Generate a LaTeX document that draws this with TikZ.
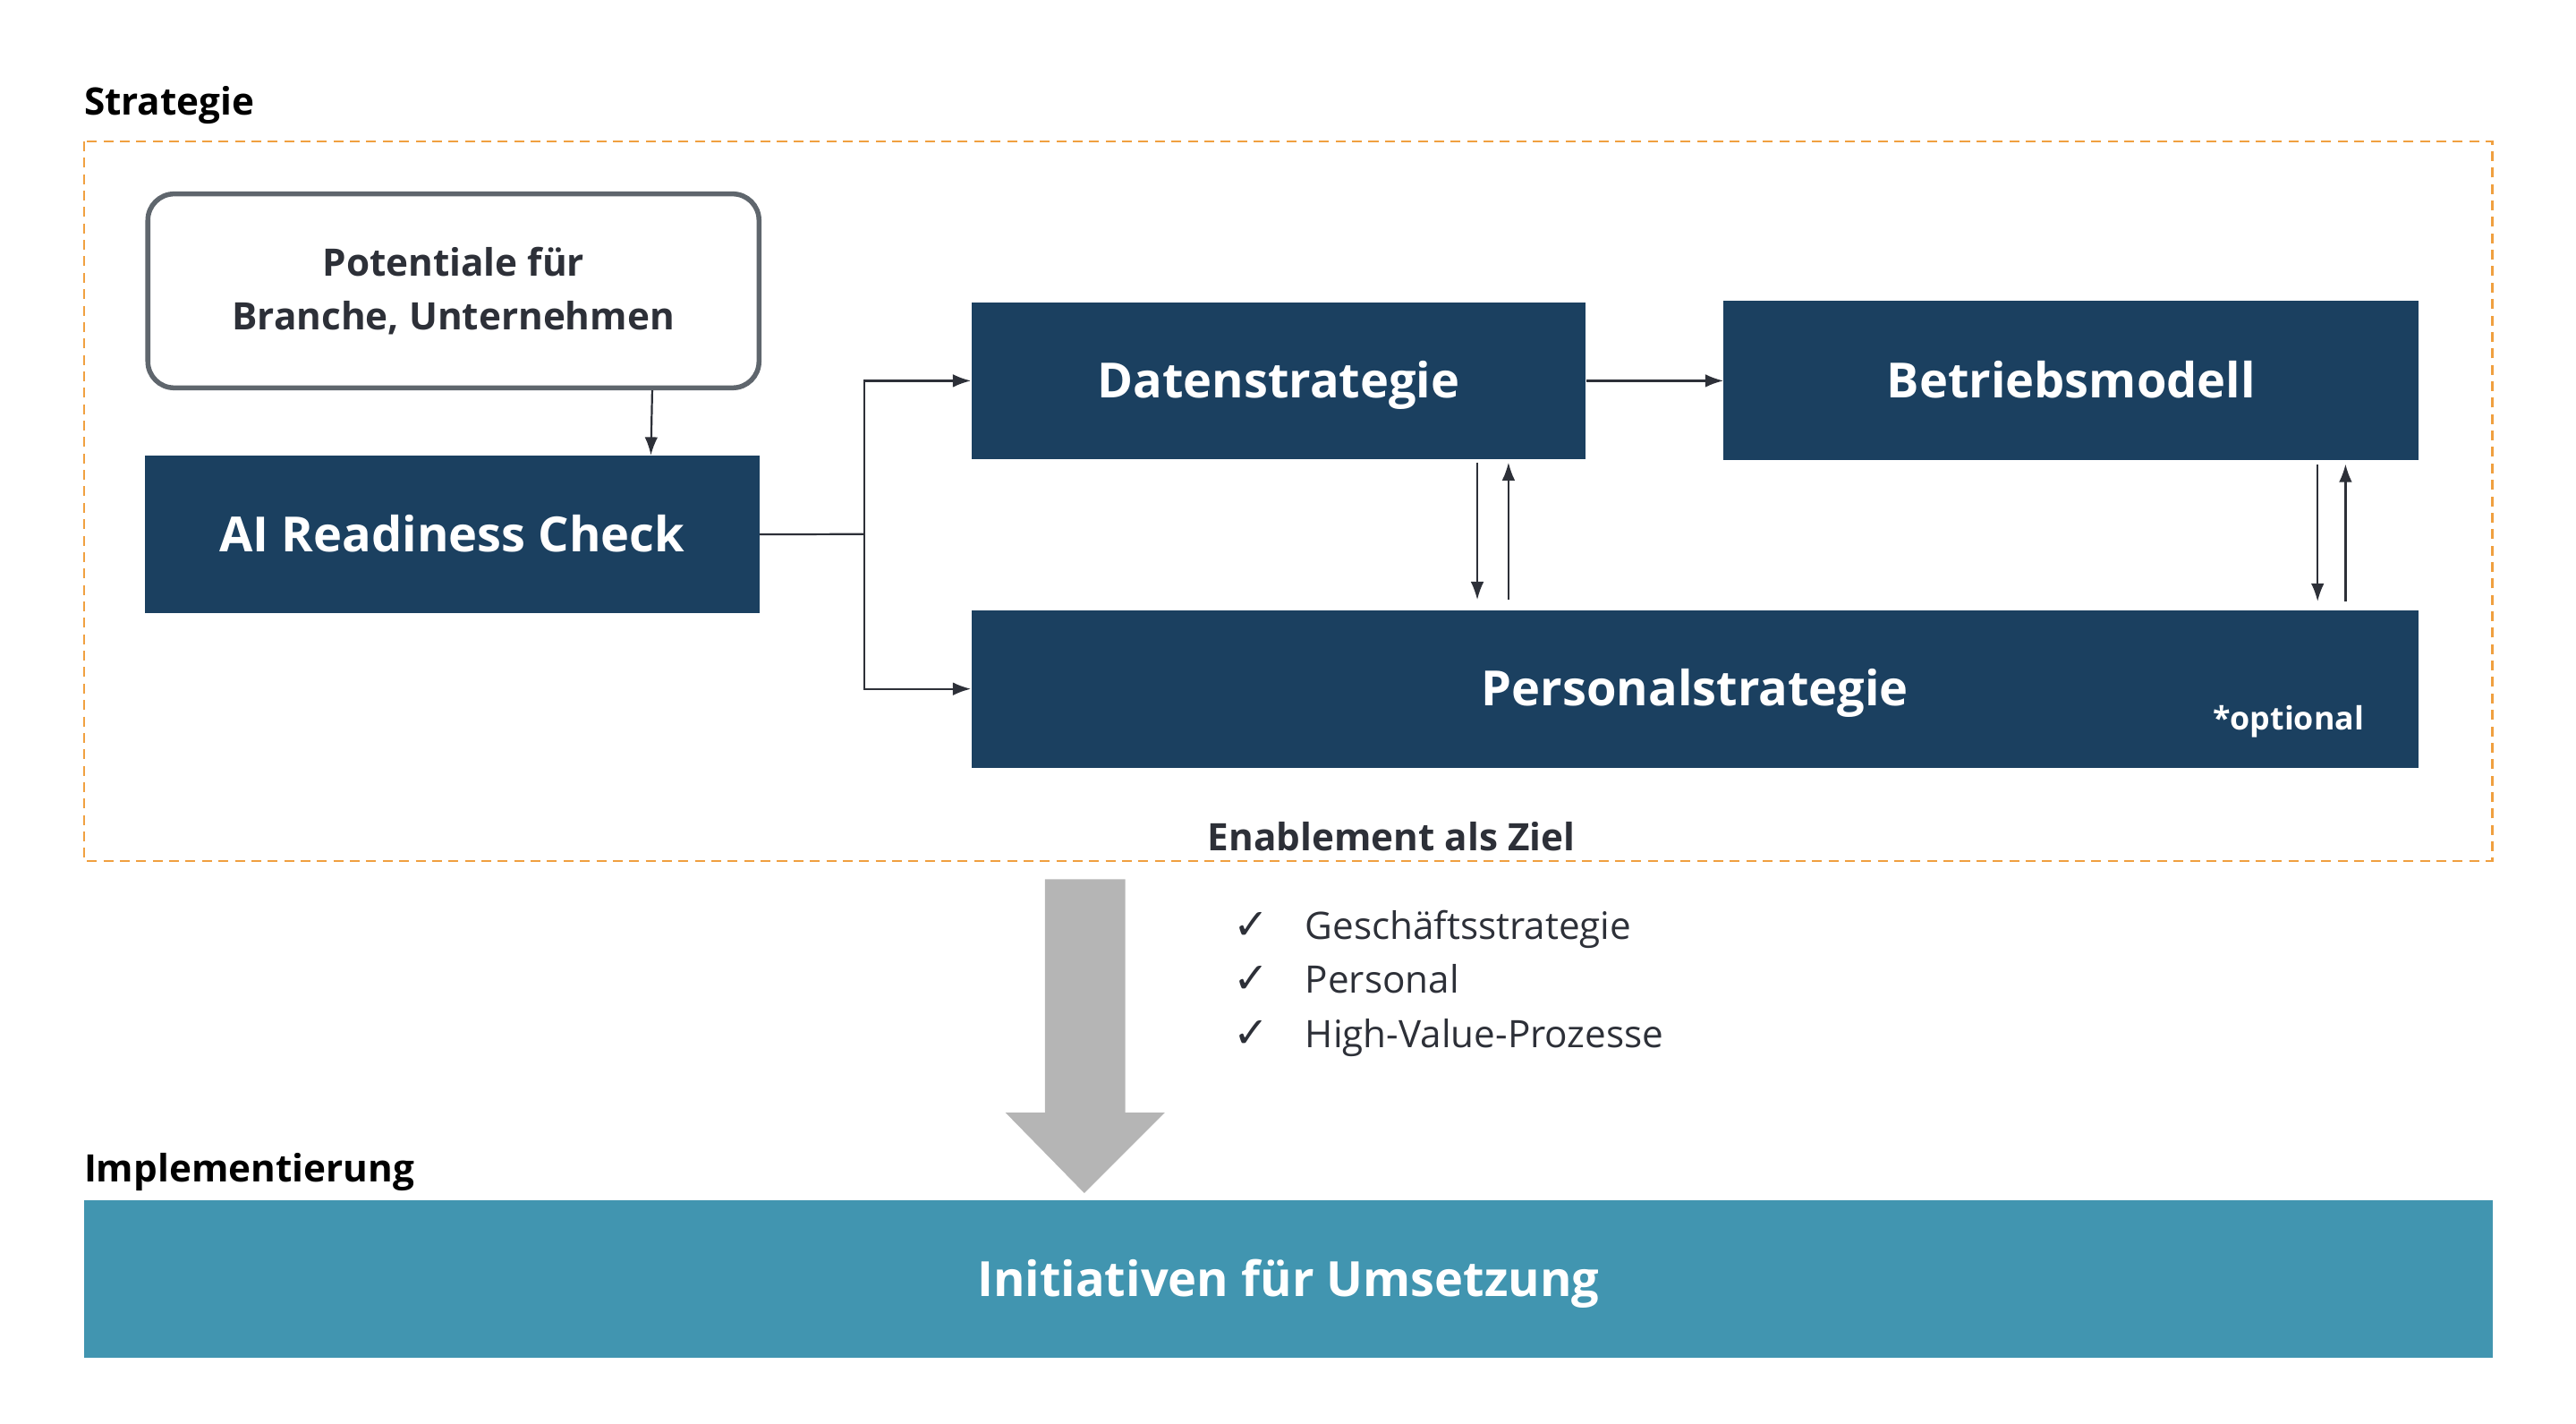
\documentclass[tikz,border=0pt]{standalone}
\usepackage{fontspec}
\setmainfont{Open Sans}
\newfontfamily\symbolfont{DejaVu Sans}
\newcommand{\chk}{{\symbolfont\bfseries\fontsize{26}{26}\selectfont ✓}}
\usetikzlibrary{arrows.meta,matrix,positioning,shapes}
\definecolor{navy}{HTML}{1B4060}
\definecolor{implcol}{HTML}{4195B0}
\definecolor{framecol}{HTML}{F0A040}
\definecolor{ink}{HTML}{2D3038}
\definecolor{rimcol}{HTML}{5F666D}
\definecolor{bigarrow}{HTML}{B5B5B5}

\begin{document}
\begin{tikzpicture}[x=1pt,y=-1pt,
 bluebox/.style={fill=navy,text=white,anchor=north west,inner sep=0pt,
   text height=21pt,text depth=0pt,font=\bfseries\fontsize{29.5}{34}\selectfont},
 link/.style={draw=ink,line width=1.2pt,-{Latex[length=11pt,width=8pt]}},
 plain/.style={draw=ink,line width=1.2pt},
 head/.style={anchor=west,inner sep=0pt,font=\bfseries\fontsize{23}{26}\selectfont}]
 \useasboundingbox (0,0) rectangle (1568,866);

 % Strategie
 \node[head] (strat) at (51,64) {Strategie};
 \draw[framecol,line width=1.2pt,dash pattern=on 6pt off 4pt] (51,86) rectangle (1517,524);

 \node[draw=rimcol,line width=3pt,rounded corners=16pt,anchor=north west,
   minimum width=372,minimum height=118,align=center,text=ink,
   font=\bfseries\fontsize{23}{33}\selectfont] (pot) at (88.5,116.5)
   {Potentiale für\\Branche, Unternehmen};
 \node[bluebox,minimum width=374,minimum height=96] (ai) at (88,277) {AI Readiness Check};
 \node[bluebox,minimum width=374,minimum height=95] (daten) at (591,184) {Datenstrategie};
 \node[bluebox,minimum width=423,minimum height=97] (betrieb) at (1049,183) {Betriebsmodell};
 \node[bluebox,minimum width=881,minimum height=96] (pers) at (591,371) {Personalstrategie};
 \node[text=white,font=\bfseries\fontsize{19.5}{22}\selectfont] (opt) at (1393,439) {*optional};

 \draw[link] ([xshift=121]pot.south) -- ([xshift=121]ai.north);
 \coordinate (split) at (526,325);
 \draw[plain] (ai.east) -- (split);
 \draw[link] (split) |- (daten.west);
 \draw[link] (split) |- (pers.west);
 \draw[link] (daten.east) -- (betrieb.west);
 \draw[link,shorten <=2pt,shorten >=6pt] ([xshift=121]daten.south) -- ([xshift=121]daten.south |- pers.north);
 \draw[link,shorten <=6pt,shorten >=2pt] ([xshift=140]daten.south |- pers.north) -- ([xshift=140]daten.south);
 \draw[link,shorten <=2pt,shorten >=5pt] ([xshift=150]betrieb.south) -- ([xshift=150]betrieb.south |- pers.north);
 \draw[link,shorten <=5pt,shorten >=2pt] ([xshift=167]betrieb.south |- pers.north) -- ([xshift=167]betrieb.south);

 \node[text=ink,font=\bfseries\fontsize{23}{26}\selectfont] (ziel) at (847,509) {Enablement als Ziel};

 % Uebergang
 \fill[bigarrow] (636,535) -- (685,535) -- (685,677) -- (709,677) -- (660,726)
   -- (612,677) -- (636,677) -- cycle;

 \matrix (goals) [matrix of nodes,anchor=north west,row sep=11pt,column sep=0pt,
   nodes={anchor=west,inner sep=0pt,text=ink,text height=17pt,text depth=5pt,
     font=\fontsize{23}{26}\selectfont},
   column 1/.style={nodes={text width=44pt}}] at (747,551) {
   \chk & Geschäftsstrategie \\
   \chk & Personal \\
   \chk & High-Value-Prozesse \\
 };

 % Implementierung
 \node[head] (impl) at (51,713) {Implementierung};
 \node[bluebox,fill=implcol,minimum width=1466,minimum height=96] (init) at (51,730)
   {Initiativen für Umsetzung};
\end{tikzpicture}
\end{document}
